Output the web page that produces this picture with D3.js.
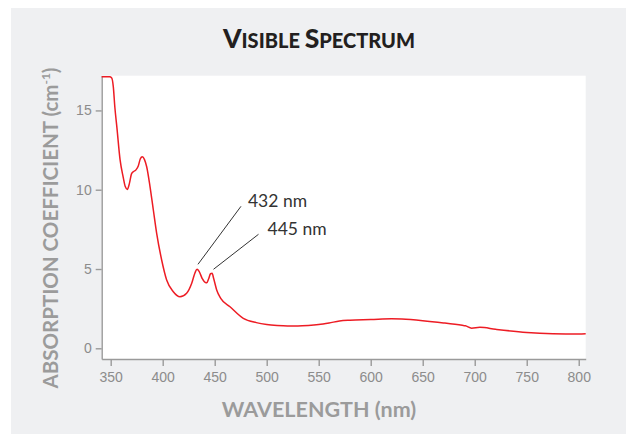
<!DOCTYPE html>
<html>
<head>
<meta charset="utf-8">
<script src="https://cdn.jsdelivr.net/npm/d3@7"></script>
<style>
  body { margin: 0; background: #fff; }
  svg { display: block; }
</style>
</head>
<body>
<div id="chart"></div>
<script>
// spectrum
var wavelengths = [341.3, 345, 349, 351, 352.5, 354, 356, 359, 362, 364, 366, 368, 370, 372, 374.3, 376.5, 378.5, 380.4, 382.5, 384.6,
    387.8, 391, 394.2, 399, 403.8, 410.2, 416.6, 423, 427.9, 431, 433, 435, 438, 441, 442.5, 444, 446, 447.5, 449, 451.9,
    455.8, 464.7, 477.5, 490, 500, 510, 520, 530, 540, 550, 560, 570, 580, 600, 620, 630, 650, 670, 688, 691,
    697, 705, 720, 750, 775, 800, 806.7];
var absorption = [17.12, 17.12, 17.12, 17.05, 16.5, 15.2, 13.9, 11.9, 10.8, 10.2, 10.02, 10.4, 11.0, 11.15, 11.25, 11.5, 11.95, 12.08, 11.9, 11.45,
    10.2, 8.72, 7.25, 5.57, 4.31, 3.57, 3.25, 3.47, 4.1, 4.75, 4.98, 4.85, 4.4, 4.15, 4.14, 4.35, 4.7, 4.73, 4.4, 3.68,
    3.15, 2.62, 1.89, 1.62, 1.5, 1.44, 1.41, 1.41, 1.44, 1.5, 1.6, 1.72, 1.77, 1.81, 1.86, 1.84, 1.74, 1.6, 1.45, 1.42,
    1.27, 1.32, 1.2, 1.0, 0.92, 0.9, 0.92];

var xTicks = [350, 400, 450, 500, 550, 600, 650, 700, 750, 800];
var yTicks = [0, 5, 10, 15];

var peakLabels = ["432 nm", "445 nm"];
var peakWavelengths = [432, 445];

var W = 626, H = 434;
var margin = {top: 75.7, right: 40.3, bottom: 75, left: 101.7};

var svg = d3.select("#chart").append("svg")
    .attr("width", W)
    .attr("height", H);

// grey panel + white plot
svg.append("rect")
    .attr("x", 11).attr("y", 8)
    .attr("width", W - 11).attr("height", H - 8)
    .attr("fill", "#eff0f2");

var plotW = W - margin.left - margin.right,
    plotH = H - margin.top - margin.bottom;

var x = d3.scaleLinear().domain([341.35, 806.7]).range([margin.left, margin.left + plotW]);
var y = d3.scaleLinear().domain([-0.675, 17.19]).range([margin.top + plotH, margin.top]);

svg.append("rect")
    .attr("x", margin.left).attr("y", margin.top)
    .attr("width", plotW).attr("height", plotH)
    .attr("fill", "#fff");

// axes
var xAxis = svg.append("g")
    .attr("transform", "translate(0," + (margin.top + plotH) + ")")
    .call(d3.axisBottom(x).tickValues(xTicks).tickSize(7).tickSizeOuter(0).tickPadding(6));

var yAxis = svg.append("g")
    .attr("transform", "translate(" + margin.left + ",0)")
    .call(d3.axisLeft(y).tickValues(yTicks).tickSize(6).tickSizeOuter(0).tickPadding(4));

[xAxis, yAxis].forEach(function(g){
    g.selectAll("path, line").attr("stroke", "#9a9a9a").attr("stroke-width", 1.4);
    g.selectAll("text")
        .attr("fill", "#8c8c8c")
        .style("font-family", "'Liberation Sans', Arial, sans-serif")
        .style("font-size", "14px");
});

// spectrum line
var pts = wavelengths.map(function(w, i){ return [w, absorption[i]]; });
var line = d3.line()
    .x(function(d){ return x(d[0]); })
    .y(function(d){ return y(d[1]); })
    .curve(d3.curveMonotoneX);

svg.append("path")
    .datum(pts)
    .attr("d", line)
    .attr("fill", "none")
    .attr("stroke", "#ed1c24")
    .attr("stroke-width", 1.5);

// peak call-outs
var leader = [{dx0: 2, dy0: -5, dx: 43, dy: -58}, {dx0: 4, dy0: -4, dx: 45, dy: -35}];
peakWavelengths.forEach(function(w, i){
    var v = d3.max(pts.filter(function(p){ return Math.abs(p[0] - w) < 3; }), function(p){ return p[1]; });
    var x0 = x(w) + leader[i].dx0, y0 = y(v) + leader[i].dy0;
    var x1 = x0 + leader[i].dx, y1 = y0 + leader[i].dy;
    svg.append("line")
        .attr("x1", x0).attr("y1", y0)
        .attr("x2", x1).attr("y2", y1)
        .attr("stroke", "#333").attr("stroke-width", 1);
    svg.append("text")
        .attr("x", x1 + 7 + i * 2).attr("y", y1 + 1)
        .attr("fill", "#333")
        .style("font-family", "Lato, 'Open Sans', sans-serif")
        .style("font-size", "17.5px")
        .text(peakLabels[i]);
});

// title, small caps by hand
var title = svg.append("text")
    .attr("x", 319).attr("y", 48)
    .attr("text-anchor", "middle")
    .attr("fill", "#231f20")
    .style("font-family", "Lato, sans-serif")
    .style("font-weight", "900");
title.append("tspan").style("font-size", "26.5px").text("V");
title.append("tspan").style("font-size", "20px").text("ISIBLE ");
title.append("tspan").style("font-size", "26.5px").text("S");
title.append("tspan").style("font-size", "20px").text("PECTRUM");

// axis titles
svg.append("text")
    .attr("x", 319).attr("y", 417)
    .attr("text-anchor", "middle")
    .attr("fill", "#9b9b9b")
    .style("font-family", "Lato, sans-serif")
    .style("font-weight", "bold")
    .style("font-size", "21.5px")
    .text("WAVELENGTH (nm)");

var yt = svg.append("text")
    .attr("transform", "translate(58,228) rotate(-90)")
    .attr("text-anchor", "middle")
    .attr("fill", "#9b9b9b")
    .style("font-family", "Lato, sans-serif")
    .style("font-weight", "bold")
    .style("font-size", "20.5px");
yt.append("tspan").text("ABSORPTION COEFFICIENT (cm");
yt.append("tspan").attr("dy", -8).style("font-size", "12px").text("-1");
yt.append("tspan").attr("dy", 8).text(")");
</script>
</body>
</html>
